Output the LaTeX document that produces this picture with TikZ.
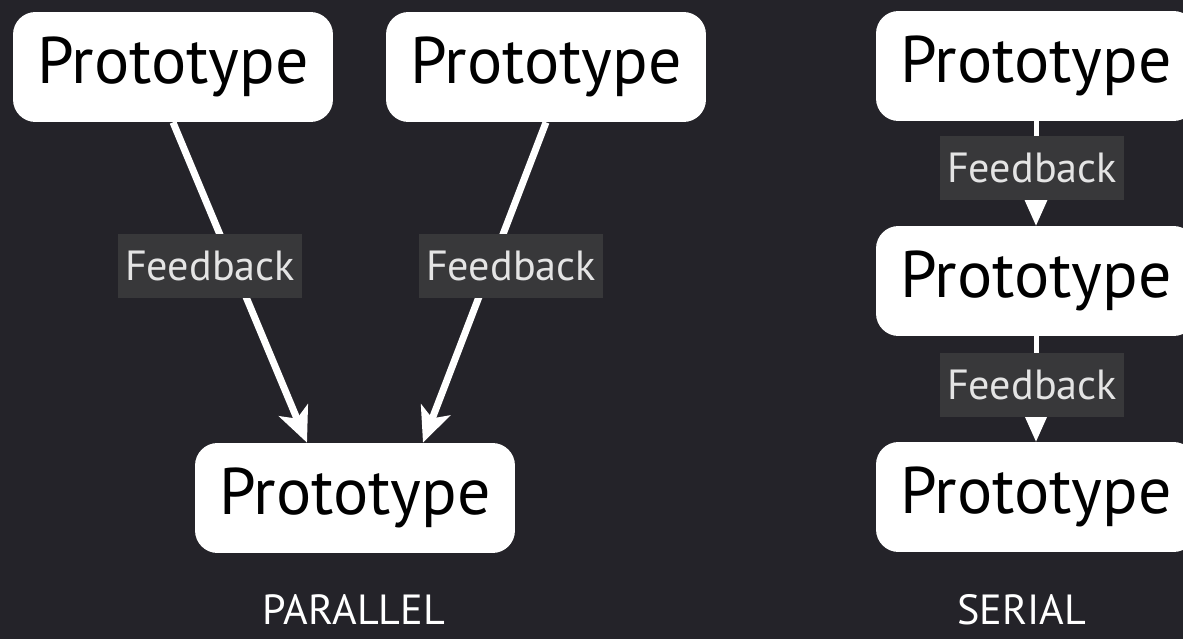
\documentclass[tikz,border=0pt]{standalone}
\usepackage{fontspec}
\setmainfont{PT Sans}
\usetikzlibrary{arrows.meta}
\definecolor{slidebg}{RGB}{36,35,41}
\definecolor{fbgray}{RGB}{56,56,58}
\definecolor{fbtext}{RGB}{228,228,228}

\begin{document}
\begin{tikzpicture}[x=0.02cm, y=-0.02cm,
    >={Stealth[length=0.7cm, width=0.62cm, inset=0.18cm]},
    proto/.style={fill=white, rounded corners=0.45cm, minimum width=6.4cm, minimum height=2.2cm, inner sep=0pt, font=\fontsize{37.5}{40}\selectfont},
    fb/.style={fill=fbgray, text=fbtext, minimum width=3.7cm, minimum height=1.3cm, inner sep=0pt, font=\fontsize{24}{28}\selectfont},
    caption/.style={text=white, anchor=base, inner sep=0pt, font=\fontsize{24}{28}\selectfont},
    link/.style={->, white, line width=0.14cm},
    slink/.style={->, white, line width=0.1cm}]
  \fill[slidebg] (0,0) rectangle (1183,639);
  \useasboundingbox (0,0) rectangle (1183,639);

  % parallel
  \node[proto] (pl) at (173, 67)  {Prototype};
  \node[proto] (pr) at (546, 67)  {Prototype};
  \node[proto] (pb) at (355, 498) {Prototype};
  \draw[link] (pl.south) -- ([xshift=-0.96cm]pb.north);
  \draw[link] (pr.south) -- ([xshift=1.36cm]pb.north);
  \node[fb] (fl) at (210, 266) {Feedback};
  \node[fb] (fr) at (511, 266) {Feedback};
  \node[caption] (par) at (354, 624) {PARALLEL};

  % serial
  \node[proto] (s1) at (1036, 66)  {Prototype};
  \node[proto] (s2) at (1036, 281) {Prototype};
  \node[proto] (s3) at (1036, 497) {Prototype};
  \draw[slink] (s1.south) -- (s2.north);
  \draw[slink] (s2.south) -- (s3.north);
  \node[fb] (f1) at (1032, 168) {Feedback};
  \node[fb] (f2) at (1032, 385) {Feedback};
  \node[caption] (ser) at (1022, 624) {SERIAL};
\end{tikzpicture}
\end{document}
